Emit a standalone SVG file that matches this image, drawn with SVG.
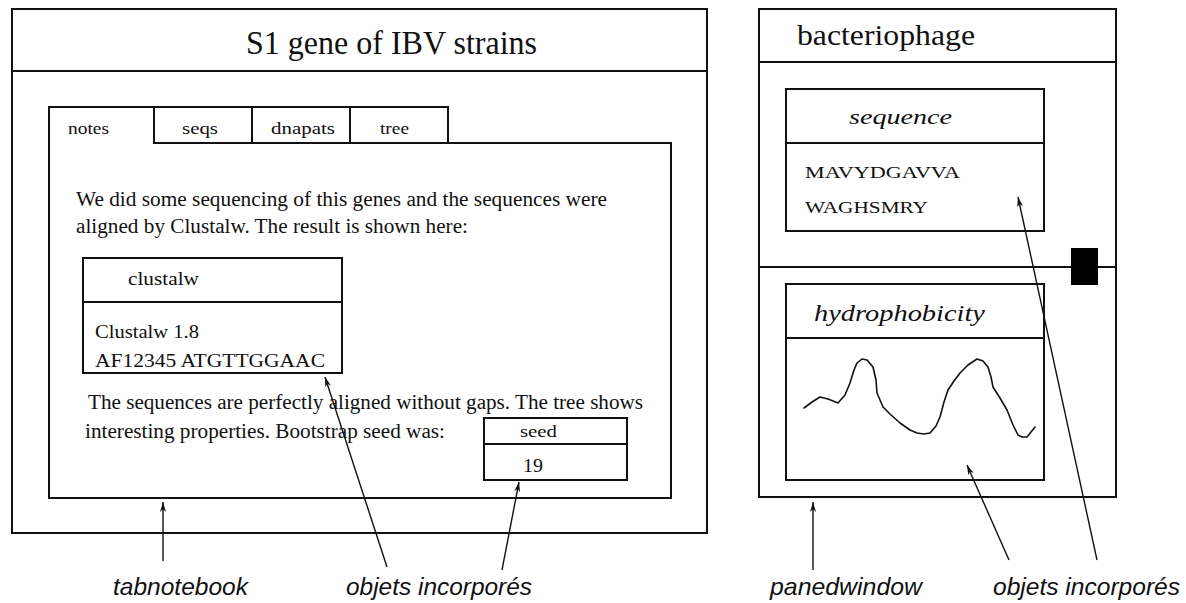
<svg xmlns="http://www.w3.org/2000/svg" width="1186" height="603" viewBox="0 0 1186 603">
<style>
.box{fill:none;stroke:#111;stroke-width:2}
.t{font-family:"Liberation Serif","Times New Roman",serif;fill:#111}
.ti{font-family:"Liberation Serif","Times New Roman",serif;font-style:italic;fill:#111}
.lbl{font-family:"Liberation Sans",Arial,sans-serif;font-style:italic;font-size:24px;fill:#111}
.arr{fill:none;stroke:#111;stroke-width:1.4;marker-end:url(#ah)}
</style>
<defs>
<marker id="ah" viewBox="0 0 10 6" refX="10" refY="3" markerWidth="10" markerHeight="6" markerUnits="userSpaceOnUse" orient="auto">
<path d="M0,0 L10,3 L0,6 L3,3 z" fill="#111"/>
</marker>
</defs>
<rect width="1186" height="603" fill="#fff"/>

<g id="tabnotebook-window">
<rect class="box" x="12" y="9" width="695" height="524"/>
<line class="box" x1="12" y1="71" x2="707" y2="71"/>
<text class="t" x="246" y="54" font-size="33" textLength="291" lengthAdjust="spacingAndGlyphs">S1 gene of IBV strains</text>
</g>

<g id="tabnotebook">
<path class="box" d="M49,498 V107 H154 V143 H671 V498 Z"/>
<rect class="box" x="154" y="107" width="98" height="36"/>
<rect class="box" x="252" y="107" width="98" height="36"/>
<rect class="box" x="350" y="107" width="98" height="36"/>
<text class="t" x="68" y="134" font-size="17" textLength="41" lengthAdjust="spacingAndGlyphs">notes</text>
<text class="t" x="182" y="134" font-size="17" textLength="36" lengthAdjust="spacingAndGlyphs">seqs</text>
<text class="t" x="271" y="134" font-size="17" textLength="64" lengthAdjust="spacingAndGlyphs">dnapats</text>
<text class="t" x="380" y="134" font-size="17" textLength="29" lengthAdjust="spacingAndGlyphs">tree</text>
<text class="t" x="76" y="206" font-size="20" textLength="531" lengthAdjust="spacingAndGlyphs">We did some sequencing of this genes and the sequences were</text>
<text class="t" x="76" y="233" font-size="20" textLength="392" lengthAdjust="spacingAndGlyphs">aligned by Clustalw. The result is shown here:</text>
<text class="t" x="88" y="409" font-size="20" textLength="555" lengthAdjust="spacingAndGlyphs">The sequences are perfectly aligned without gaps. The tree shows</text>
<text class="t" x="85" y="438" font-size="20" textLength="360" lengthAdjust="spacingAndGlyphs">interesting properties. Bootstrap seed was:</text>
</g>

<g id="clustalw">
<rect class="box" x="83" y="258" width="259" height="115"/>
<line class="box" x1="83" y1="302" x2="342" y2="302"/>
<text class="t" x="128" y="285" font-size="18" textLength="71" lengthAdjust="spacingAndGlyphs">clustalw</text>
<text class="t" x="95" y="338" font-size="18" textLength="104" lengthAdjust="spacingAndGlyphs">Clustalw 1.8</text>
<text class="t" x="95" y="367" font-size="18" textLength="230" lengthAdjust="spacingAndGlyphs">AF12345 ATGTTGGAAC</text>
</g>

<g id="seed">
<rect class="box" x="484" y="418" width="143" height="62"/>
<line class="box" x1="484" y1="444" x2="627" y2="444"/>
<text class="t" x="520" y="437" font-size="17" textLength="37" lengthAdjust="spacingAndGlyphs">seed</text>
<text class="t" x="523" y="472" font-size="18" textLength="20" lengthAdjust="spacingAndGlyphs">19</text>
</g>

<g id="panedwindow">
<rect class="box" x="759" y="9" width="357" height="488"/>
<line class="box" x1="759" y1="62" x2="1116" y2="62"/>
<line class="box" x1="759" y1="267" x2="1116" y2="267"/>
<rect x="1071" y="248" width="27" height="37" fill="#000"/>
<text class="t" x="797" y="45" font-size="29" textLength="178" lengthAdjust="spacingAndGlyphs">bacteriophage</text>
</g>

<g id="sequence">
<rect class="box" x="786" y="89" width="258" height="142"/>
<line class="box" x1="786" y1="143" x2="1044" y2="143"/>
<text class="ti" x="849" y="124" font-size="22" textLength="103" lengthAdjust="spacingAndGlyphs">sequence</text>
<text class="t" x="805" y="178" font-size="17" textLength="155" lengthAdjust="spacingAndGlyphs">MAVYDGAVVA</text>
<text class="t" x="805" y="213" font-size="17" textLength="123" lengthAdjust="spacingAndGlyphs">WAGHSMRY</text>
</g>

<g id="hydrophobicity">
<rect class="box" x="786" y="284" width="258" height="196"/>
<line class="box" x1="786" y1="338" x2="1044" y2="338"/>
<text class="ti" x="814" y="321" font-size="24" textLength="171" lengthAdjust="spacingAndGlyphs">hydrophobicity</text>
<polyline fill="none" stroke="#111" stroke-width="1.6" stroke-linejoin="round" stroke-linecap="round" points="804,408 812,402 820,397 828,399 838,403 845,395 850,383 854,370 857,363 862,359 867,360 873,367 876,380 877,393 883,407 890,414 900,423 910,430 917,433 924,434 930,433 936,426 940,417 944,402 948,390 954,381 960,373 968,365 977,359 983,361 988,367 991,377 993,387 1000,398 1007,410 1013,425 1018,435 1022,437 1027,437 1031,432 1035,427"/>
</g>

<g id="connectors">
<line class="arr" x1="163" y1="561" x2="163" y2="502"/>
<line class="arr" x1="387" y1="567" x2="325" y2="377"/>
<line class="arr" x1="502" y1="570" x2="519" y2="482"/>
<line class="arr" x1="813" y1="570" x2="813" y2="502"/>
<line class="arr" x1="1009" y1="560" x2="967" y2="465"/>
<line class="arr" x1="1097" y1="560" x2="1018" y2="197"/>
</g>

<g id="labels">
<text class="lbl" x="113" y="595" textLength="135" lengthAdjust="spacingAndGlyphs">tabnotebook</text>
<text class="lbl" x="346" y="595" textLength="186" lengthAdjust="spacingAndGlyphs">objets incorporés</text>
<text class="lbl" x="770" y="595" textLength="152" lengthAdjust="spacingAndGlyphs">panedwindow</text>
<text class="lbl" x="993" y="595" textLength="187" lengthAdjust="spacingAndGlyphs">objets incorporés</text>
</g>
</svg>
